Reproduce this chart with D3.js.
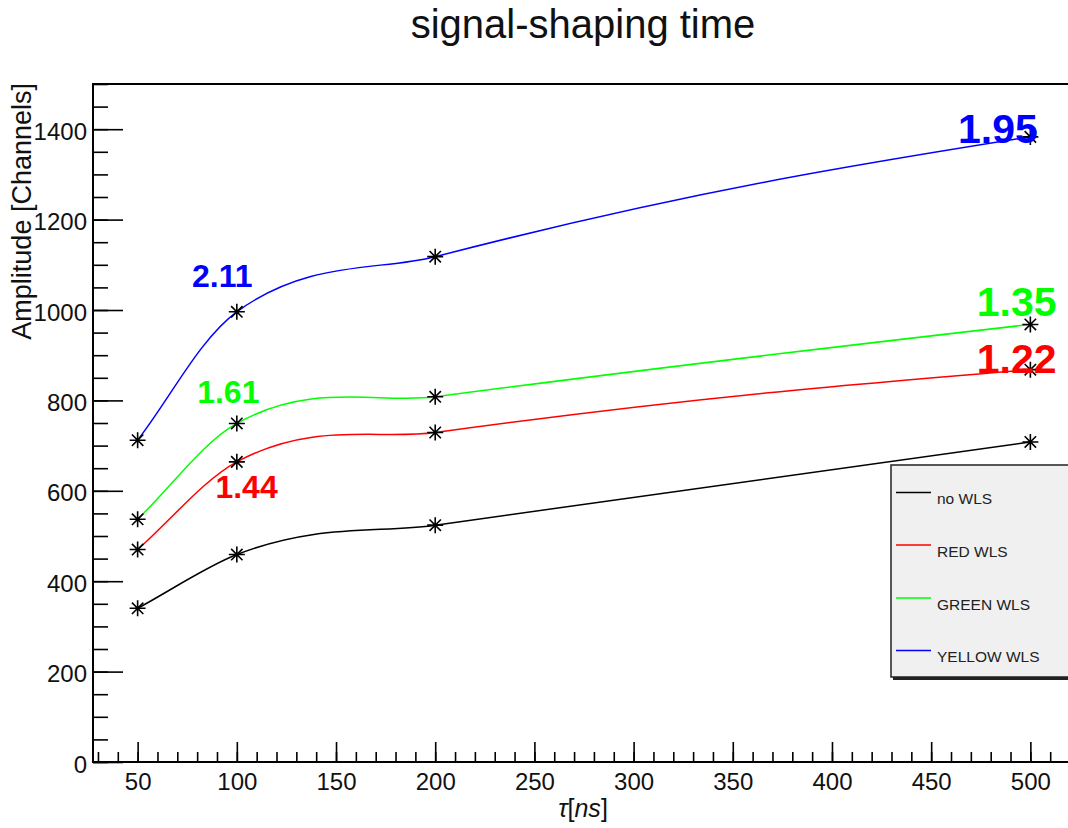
<!DOCTYPE html>
<html>
<head>
<meta charset="utf-8">
<script src="https://cdn.jsdelivr.net/npm/d3@7"></script>
<style>
  html, body { margin: 0; padding: 0; background: #fff; }
  svg { display: block; }
  text { font-family: "Liberation Sans", Arial, Helvetica, sans-serif; }
</style>
</head>
<body>
<svg id="chart" width="1068" height="828"></svg>
<script>
// ---------- data ----------
const taus = [50, 100, 200, 500];
const noWLS = [340, 459, 524, 708];
const redWLS = [470, 664, 729, 868];
const greenWLS = [537, 749, 808, 968];
const yellowWLS = [712, 996, 1118, 1383];

const seriesNames = ["no WLS", "RED WLS", "GREEN WLS", "YELLOW WLS"];
const seriesValues = [noWLS, redWLS, greenWLS, yellowWLS];
const seriesColors = ["#000000", "#ff0000", "#00ff00", "#0000ff"];

const xTicks = [50, 100, 150, 200, 250, 300, 350, 400, 450, 500];
const yTicks = [0, 200, 400, 600, 800, 1000, 1200, 1400];

// ratio annotations (text, anchor in data coords, colour index, size class)
const annText = ["2.11", "1.61", "1.44", "1.95", "1.35", "1.22"];
const annX = [77.4, 80, 89.2, 463.5, 473, 473];
const annY = [1050, 795, 584, 1369, 986, 860];
const annColor = [3, 2, 1, 3, 2, 1];
const annBig = [false, false, false, true, true, true];

// ---------- layout ----------
const svg = d3.select("#chart");
const W = 1068, H = 828;
const L = 93, T = 84, R = 1075, B = 762;

const x = d3.scaleLinear().domain([27.5, 522.5]).range([L, R]);
const y = d3.scaleLinear().domain([0, 1500]).range([B, T]);

svg.append("rect").attr("width", W).attr("height", H).attr("fill", "#fff");

// title
svg.append("text")
  .attr("x", 583).attr("y", 38)
  .attr("text-anchor", "middle")
  .attr("font-size", 40)
  .attr("fill", "#111")
  .text("signal-shaping time");

// ---------- axes ----------
const xMinor = d3.range(30, 521, 10);
const yMinor = d3.range(0, 1501, 50);

const gx = svg.append("g").attr("transform", `translate(0,${B})`);
gx.call(d3.axisBottom(x).tickValues(xMinor).tickSize(-10).tickFormat(""));
gx.select(".domain").remove();
const gx2 = svg.append("g").attr("transform", `translate(0,${B})`);
gx2.call(d3.axisBottom(x).tickValues(xTicks).tickSize(-20).tickPadding(0).tickFormat(d3.format("d")));
gx2.select(".domain").remove();
gx2.selectAll("text").attr("y", 28).attr("dy", 0).attr("font-size", 24).attr("fill", "#111")
  .style("font-family", '"Liberation Sans", Arial, sans-serif');

const gy = svg.append("g").attr("transform", `translate(${L},0)`);
gy.call(d3.axisLeft(y).tickValues(yMinor).tickSize(-15).tickFormat(""));
gy.select(".domain").remove();
const gy2 = svg.append("g").attr("transform", `translate(${L},0)`);
gy2.call(d3.axisLeft(y).tickValues(yTicks).tickSize(-30).tickPadding(0).tickFormat(d3.format("d")));
gy2.select(".domain").remove();
gy2.selectAll("text").attr("x", -6).attr("dy", 0).attr("y", 10).attr("font-size", 24).attr("fill", "#111")
  .style("font-family", '"Liberation Sans", Arial, sans-serif');
svg.selectAll(".tick line").attr("stroke", "#000").attr("stroke-width", 1.6);

// frame
svg.append("rect")
  .attr("x", L).attr("y", T).attr("width", R - L).attr("height", B - T)
  .attr("fill", "none").attr("stroke", "#000").attr("stroke-width", 2);

// axis titles
const xt = svg.append("text")
  .attr("x", 583).attr("y", 817)
  .attr("text-anchor", "middle")
  .attr("font-size", 25)
  .attr("fill", "#111");
xt.append("tspan").attr("font-style", "italic").text("τ");
xt.append("tspan").text("[");
xt.append("tspan").attr("font-style", "italic").text("ns");
xt.append("tspan").text("]");

svg.append("text")
  .attr("transform", `translate(31,${T - 1}) rotate(-90)`)
  .attr("text-anchor", "end")
  .attr("font-size", 27)
  .attr("fill", "#111")
  .text("Amplitude [Channels]");

// ---------- smooth curve (ROOT-like "C" option) ----------
// custom d3 curve: Hermite segments with chord-weighted tangents
function rootSmooth(context) {
  let pts = [];
  return {
    lineStart() { pts = []; },
    lineEnd() {
      const n = pts.length;
      if (!n) return;
      context.moveTo(pts[0][0], pts[0][1]);
      if (n < 3) { for (let i = 1; i < n; i++) context.lineTo(pts[i][0], pts[i][1]); return; }
      const kStart = 1.3, kEnd = 0.85;
      const tan = pts.map((p, i) => {
        if (i === 0 || i === n - 1) return null;
        const a = pts[i - 1], b = pts[i + 1];
        const ux = p[0] - a[0], uy = p[1] - a[1], l1 = Math.hypot(ux, uy);
        const vx = b[0] - p[0], vy = b[1] - p[1], l2 = Math.hypot(vx, vy);
        const dx = ux / l1 * l2 + vx / l2 * l1, dy = uy / l1 * l2 + vy / l2 * l1;
        const dl = Math.hypot(dx, dy);
        return [dx / dl, dy / dl];
      });
      for (let i = 0; i < n - 1; i++) {
        const p0 = pts[i], p1 = pts[i + 1];
        const cx = p1[0] - p0[0], cy = p1[1] - p0[1], len = Math.hypot(cx, cy);
        let m0, m1;
        if (tan[i]) m0 = [tan[i][0] * len * kStart, tan[i][1] * len * kStart];
        if (tan[i + 1]) m1 = [tan[i + 1][0] * len * kEnd, tan[i + 1][1] * len * kEnd];
        if (!m0) m0 = [cx, cy];
        if (!m1) m1 = [(3 * cx - m0[0]) / 2, (3 * cy - m0[1]) / 2];
        context.bezierCurveTo(p0[0] + m0[0] / 3, p0[1] + m0[1] / 3,
                              p1[0] - m1[0] / 3, p1[1] - m1[1] / 3,
                              p1[0], p1[1]);
      }
    },
    point(xx, yy) { pts.push([+xx, +yy]); },
    areaStart() {}, areaEnd() {}
  };
}

const line = d3.line()
  .x(d => x(d[0]))
  .y(d => y(d[1]))
  .curve(rootSmooth);

seriesValues.forEach((vals, i) => {
  const pts = taus.map((t, j) => [t, vals[j]]);
  svg.append("path")
    .attr("d", line(pts))
    .attr("fill", "none")
    .attr("stroke", seriesColors[i])
    .attr("stroke-width", 1.5);
});

// markers (ROOT style 3: asterisk)
function starPath(cx, cy) {
  const a = 8, b = 5.7;
  return `M${cx - a},${cy}L${cx + a},${cy}M${cx},${cy - a}L${cx},${cy + a}` +
         `M${cx - b},${cy - b}L${cx + b},${cy + b}M${cx - b},${cy + b}L${cx + b},${cy - b}`;
}
seriesValues.forEach((vals) => {
  svg.append("g").selectAll("path")
    .data(taus.map((t, j) => [t, vals[j]]))
    .join("path")
    .attr("d", d => starPath(x(d[0]), y(d[1])))
    .attr("stroke", "#000")
    .attr("stroke-width", 1.6)
    .attr("fill", "none");
});

// ---------- annotations ----------
annText.forEach((t, i) => {
  svg.append("text")
    .attr("x", x(annX[i])).attr("y", y(annY[i]))
    .attr("font-size", annBig[i] ? 41 : 32)
    .attr("font-weight", "bold")
    .attr("fill", seriesColors[annColor[i]])
    .text(t);
});

// ---------- legend ----------
const lg = svg.append("g");
lg.append("rect").attr("x", 893).attr("y", 467).attr("width", 200).attr("height", 213).attr("fill", "#222");
lg.append("rect").attr("x", 891).attr("y", 465).attr("width", 200).attr("height", 212)
  .attr("fill", "#f0f0f0").attr("stroke", "#222").attr("stroke-width", 1.5);
const legY = [492.5, 545, 598, 650.5];
seriesNames.forEach((n, i) => {
  lg.append("line").attr("x1", 896).attr("x2", 931).attr("y1", legY[i]).attr("y2", legY[i])
    .attr("stroke", seriesColors[i]).attr("stroke-width", 1.5);
  lg.append("text").attr("x", 937).attr("y", legY[i] + 11.5)
    .attr("font-size", 15.5).attr("fill", "#222").text(n);
});
</script>
</body>
</html>
